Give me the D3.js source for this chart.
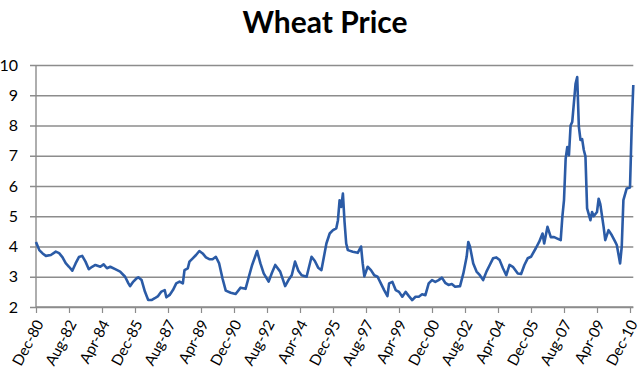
<!DOCTYPE html>
<html>
<head>
<meta charset="utf-8">
<script src="https://cdn.jsdelivr.net/npm/d3@7"></script>
<style>
  html, body { margin: 0; padding: 0; background: #fff; }
  svg { display: block; }
</style>
</head>
<body>
<svg id="chart" width="640" height="387"></svg>
<script>
// ---- Data ----
const chartTitle = "Wheat Price";
// months elapsed since Dec-1980 for each observation
const monthsSinceDec1980 = [0,2,4,6,9,12,14,16,18,20,
22,24,26,28,30,32,34,36,39,41,
43,45,48,51,54,56,57,59,61,62,
64,66,68,70,72,74,76,78,79,81,
83,85,87,89,90,92,93,95,97,99,
101,103,105,107,109,111,113,115,118,121,
124,127,129,131,134,136,138,141,143,145,
148,151,153,155,157,159,161,164,167,169,
171,173,176,178,180,182,183,184,185,186,
187,188,189,192,195,197,198,199,201,203,
205,207,209,211,213,214,216,218,220,222,
224,226,228,230,232,234,236,238,240,242,
244,246,248,250,252,254,257,259,261,262,
263,265,267,269,271,273,275,277,279,281,
283,285,287,289,292,294,296,298,300,303,
305,307,308,310,312,314,316,318,319,320,
321,322,323,324,325,327,328,329,330,331,
332,333,334,336,337,338,340,341,342,344,
345,347,349,351,352,354,355,356,358,360,
361,362];
const wheatPrice = [4.15,3.88,3.77,3.69,3.72,3.83,3.78,3.65,3.45,3.33,
3.20,3.44,3.65,3.69,3.50,3.25,3.33,3.39,3.33,3.41,
3.28,3.33,3.25,3.17,3.00,2.78,2.69,2.84,2.95,2.98,
2.89,2.51,2.23,2.23,2.29,2.36,2.51,2.56,2.32,2.40,
2.56,2.78,2.84,2.78,3.22,3.28,3.50,3.61,3.72,3.85,
3.77,3.64,3.58,3.58,3.66,3.44,2.95,2.54,2.47,2.43,
2.64,2.60,3.00,3.39,3.85,3.44,3.11,2.84,3.13,3.39,
3.17,2.69,2.89,3.05,3.50,3.20,3.05,3.00,3.66,3.52,
3.30,3.22,4.10,4.43,4.54,4.60,4.87,5.53,5.31,5.75,
4.81,4.10,3.88,3.83,3.79,4.00,3.44,3.01,3.33,3.22,
3.05,3.00,2.78,2.56,2.36,2.78,2.83,2.56,2.50,2.34,
2.50,2.36,2.23,2.34,2.34,2.42,2.39,2.78,2.89,2.83,
2.89,2.97,2.80,2.73,2.76,2.67,2.69,3.11,3.66,4.15,
4.00,3.44,3.17,3.05,2.89,3.17,3.39,3.61,3.64,3.55,
3.28,3.05,3.39,3.33,3.11,3.09,3.39,3.61,3.66,3.95,
4.16,4.43,4.10,4.65,4.31,4.31,4.26,4.21,4.98,5.53,
6.90,7.29,7.02,8.00,8.12,9.38,9.60,7.96,7.52,7.55,
7.19,6.98,5.26,4.87,5.14,5.00,5.14,5.58,5.40,4.65,
4.21,4.54,4.37,4.16,4.05,3.44,4.00,5.53,5.92,5.95,
7.90,9.34];
// x-axis category labels, one every 20 months starting Dec-80
const xTickMonths = [0,20,40,60,80,100,120,140,160,180,200,220,240,260,280,300,320,340,360];
const xTickLabels = ["Dec-80","Aug-82","Apr-84","Dec-85","Aug-87","Apr-89","Dec-90","Aug-92","Apr-94",
  "Dec-95","Aug-97","Apr-99","Dec-00","Aug-02","Apr-04","Dec-05","Aug-07","Apr-09","Dec-10"];
const yTicks = [2,3,4,5,6,7,8,9,10];

// ---- Layout ----
const svg = d3.select("#chart");
const plotLeft = 36, plotRight = 633.3, plotTop = 65, plotBottom = 307;
const font = "Lato, 'Open Sans', sans-serif";

const x = d3.scaleLinear().domain([0, 362]).range([plotLeft, plotRight]);
const y = d3.scaleLinear().domain([2, 10]).range([plotBottom, plotTop]);

// Title
svg.append("text")
  .attr("x", 325).attr("y", 33)
  .attr("text-anchor", "middle")
  .attr("font-family", font)
  .attr("font-weight", "bold")
  .attr("font-size", 30)
  .attr("fill", "#000")
  .text(chartTitle);

// Y axis with gridlines
const yAxis = d3.axisLeft(y).tickValues(yTicks).tickSize(plotRight - plotLeft + 6).tickPadding(12).tickFormat(d3.format("d"));
const gy = svg.append("g").attr("transform", `translate(${plotRight},0)`).call(yAxis);
gy.select(".domain").remove();
gy.selectAll(".tick line").attr("stroke", "#8c8c8c").attr("stroke-width", 1.4);
gy.selectAll(".tick text")
  .attr("font-family", font).attr("font-size", 16).attr("fill", "#000")
  .attr("x", -(plotRight - 18)).attr("text-anchor", "end");

// Y axis line
svg.append("line")
  .attr("x1", plotLeft).attr("x2", plotLeft).attr("y1", plotTop).attr("y2", plotBottom)
  .attr("stroke", "#8c8c8c").attr("stroke-width", 1.4);

// X axis
const xAxis = d3.axisBottom(x).tickValues(xTickMonths).tickSize(6)
  .tickFormat((d, i) => xTickLabels[i]);
const gx = svg.append("g").attr("transform", `translate(0,${plotBottom})`).call(xAxis);
gx.select(".domain").attr("stroke", "#8c8c8c").attr("stroke-width", 1.4)
  .attr("d", `M${plotLeft},0H${plotRight}`);
gx.selectAll(".tick line").attr("stroke", "#8c8c8c").attr("stroke-width", 1.2);
gx.selectAll(".tick text")
  .attr("font-family", font).attr("font-size", 15).attr("fill", "#000")
  .attr("text-anchor", "end")
  .attr("y", 0).attr("dy", "0.35em")
  .attr("transform", "translate(3,14) rotate(-62)");

// Price line
const pts = monthsSinceDec1980.map((m, i) => [m, wheatPrice[i]]);
svg.append("path")
  .datum(pts)
  .attr("fill", "none")
  .attr("stroke", "#2b5ba6")
  .attr("stroke-width", 2.6)
  .attr("stroke-linejoin", "round")
  .attr("d", d3.line().x(d => x(d[0])).y(d => y(d[1])));
</script>
</body>
</html>
